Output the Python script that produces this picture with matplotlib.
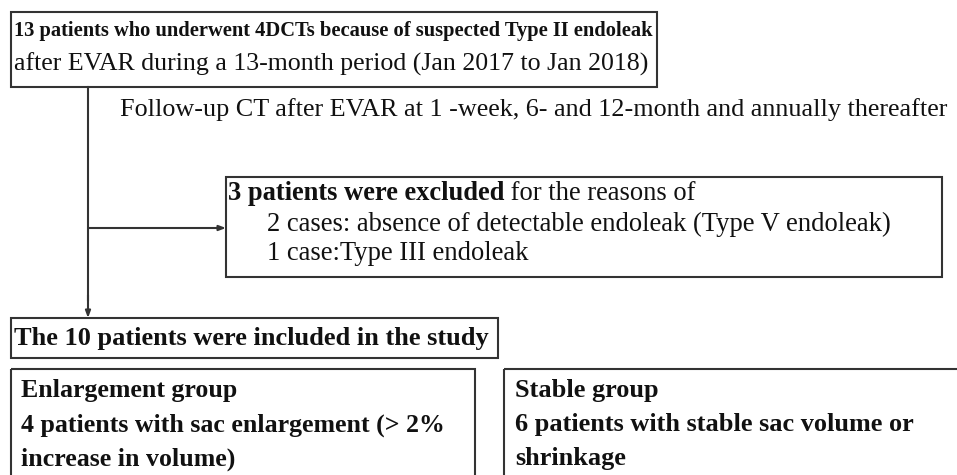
import matplotlib.pyplot as plt
from matplotlib.patches import Rectangle

# flowchart text
top_lines = ["13 patients who underwent 4DCTs because of suspected Type II endoleak",
             "after EVAR during a 13-month period (Jan 2017 to Jan 2018)"]
followup_text = "Follow-up CT after EVAR at 1 -week, 6- and 12-month and annually thereafter"
excluded_head = ["3 patients were excluded", " for the reasons of"]
excluded_lines = ["2 cases: absence of detectable endoleak (Type V endoleak)",
                  "1 case:Type III endoleak"]
included_text = "The 10 patients were included in the study"
enlarge_lines = ["Enlargement group",
                 "4 patients with sac enlargement (> 2%",
                 "increase in volume)"]
stable_lines = ["Stable group",
                "6 patients with stable sac volume or",
                "shrinkage"]

plt.rcParams['font.family'] = ['Liberation Serif', 'DejaVu Serif']
edge = '#333333'
txt = '#111111'
fs_top = 14.8
fs = 18.6
fs_excl = 19.1

fig = plt.figure(figsize=(9.57, 4.75), dpi=100)
ax = fig.add_axes([0, 0, 1, 1])
ax.set_xlim(0, 957)
ax.set_ylim(475, 0)
ax.axis('off')


def box(x0, y0, x1, y1):
    ax.add_patch(Rectangle((x0, y0), x1 - x0, y1 - y0, fill=False,
                           edgecolor=edge, linewidth=1.5))


# top box
box(11, 12, 657, 87)
ax.text(14, 31, top_lines[0], fontsize=fs_top, fontweight='bold', color=txt, va='center')
ax.text(14, 64, top_lines[1], fontsize=fs, color=txt, va='center')

# follow-up note
ax.text(120, 110, followup_text, fontsize=18.8, color=txt, va='center')

# main vertical line and arrows
arrow = dict(arrowstyle='-|>,head_length=0.4,head_width=0.15',
             color=edge, lw=1.5, shrinkA=0, shrinkB=0)
ax.plot([88, 88], [87, 300], color=edge, linewidth=1.5)
ax.annotate('', xy=(88, 318), xytext=(88, 295), arrowprops=arrow)
ax.annotate('', xy=(226, 228), xytext=(88, 228), arrowprops=arrow)

# excluded box
box(226, 177, 942, 277)
t1 = ax.text(228, 193, excluded_head[0], fontsize=fs_excl, fontweight='bold',
             color=txt, va='center')
ax.annotate(excluded_head[1], xy=(1, 0.5), xycoords=t1, va='center',
            fontsize=fs_excl, color=txt)
ax.text(267, 224, excluded_lines[0], fontsize=19.2, color=txt, va='center')
ax.text(267, 253, excluded_lines[1], fontsize=19.2, color=txt, va='center')

# included box
box(11, 318, 498, 358)
ax.text(14, 338, included_text, fontsize=19.0, fontweight='bold', color=txt, va='center')

# group boxes
box(11, 369, 475, 490)
box(504, 369, 970, 490)
for i, s in enumerate(enlarge_lines):
    ax.text(21, 391 + i * 34, s, fontsize=fs, fontweight='bold', color=txt, va='center')
for i, s in enumerate(stable_lines):
    ax.text(515, 391 + i * 34, s, fontsize=18.9, fontweight='bold', color=txt, va='center')

fig.savefig('out.png', dpi=100, facecolor='white')
